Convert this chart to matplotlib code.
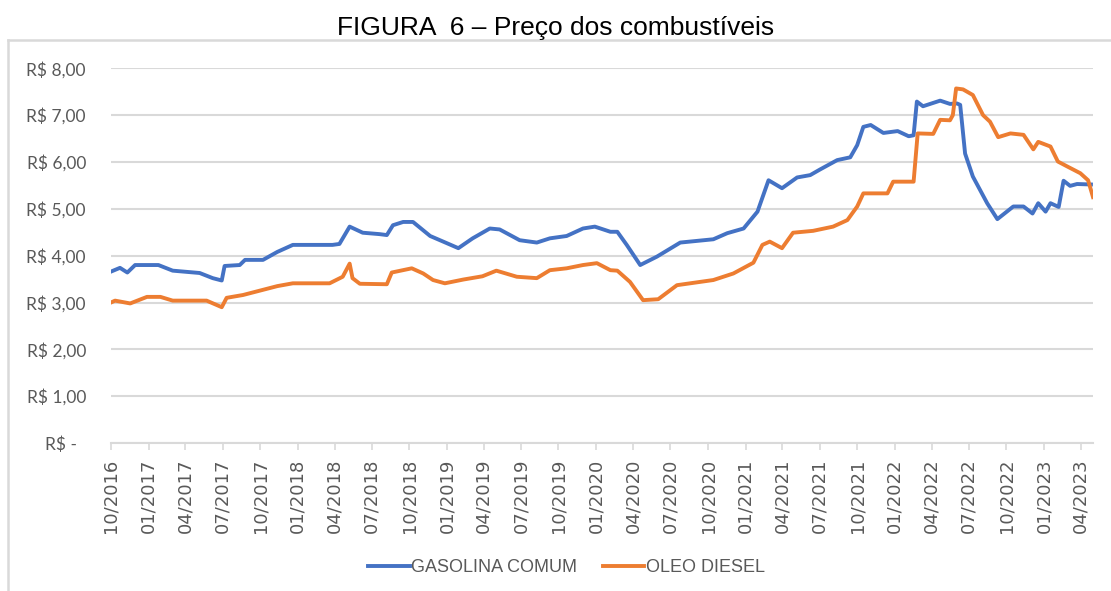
import pandas as pd
import matplotlib
matplotlib.use("Agg")
import matplotlib.pyplot as plt
import matplotlib.dates as mdates
from matplotlib.lines import Line2D

# --- data (weekly price series, key points) ---
gas_dates = [
    '2016-10-01', '2016-10-23', '2016-11-10', '2016-11-29', '2017-01-25', '2017-03-01',
    '2017-05-06', '2017-06-07', '2017-06-29', '2017-07-06', '2017-08-12', '2017-08-25',
    '2017-10-08', '2017-11-12', '2017-12-20', '2018-03-27', '2018-04-13', '2018-05-08',
    '2018-06-09', '2018-07-20', '2018-08-07', '2018-08-22', '2018-09-16', '2018-10-10',
    '2018-11-21', '2018-12-23', '2019-01-29', '2019-03-05', '2019-04-16', '2019-05-10',
    '2019-06-28', '2019-08-09', '2019-09-10', '2019-10-21', '2019-11-30', '2019-12-29',
    '2020-02-05', '2020-02-22', '2020-03-16', '2020-04-18', '2020-05-29', '2020-07-25',
    '2020-10-14', '2020-11-17', '2020-12-27', '2021-01-30', '2021-02-26', '2021-03-31',
    '2021-05-07', '2021-06-08', '2021-07-02', '2021-08-13', '2021-09-14', '2021-10-01',
    '2021-10-16', '2021-11-03', '2021-12-04', '2022-01-08', '2022-02-04', '2022-02-16',
    '2022-02-24', '2022-03-11', '2022-04-22', '2022-05-16', '2022-06-02', '2022-06-10',
    '2022-06-22', '2022-07-11', '2022-08-15', '2022-09-09', '2022-10-18', '2022-11-12',
    '2022-12-04', '2022-12-18', '2023-01-05', '2023-01-17', '2023-02-06', '2023-02-18',
    '2023-03-06', '2023-03-23', '2023-04-26',
]
gas_prices = [
    3.66, 3.74, 3.64, 3.80, 3.80, 3.68,
    3.63, 3.52, 3.47, 3.78, 3.80, 3.91,
    3.91, 4.08, 4.23, 4.23, 4.25, 4.62,
    4.49, 4.46, 4.44, 4.65, 4.72, 4.72,
    4.42, 4.30, 4.16, 4.37, 4.58, 4.56,
    4.33, 4.28, 4.37, 4.42, 4.58, 4.62,
    4.51, 4.51, 4.23, 3.80, 3.98, 4.28,
    4.35, 4.48, 4.58, 4.94, 5.61, 5.44,
    5.67, 5.72, 5.84, 6.04, 6.10, 6.36,
    6.75, 6.79, 6.62, 6.66, 6.55, 6.57,
    7.29, 7.19, 7.31, 7.24, 7.25, 7.22,
    6.18, 5.69, 5.12, 4.78, 5.05, 5.05,
    4.90, 5.12, 4.94, 5.12, 5.04, 5.60,
    5.49, 5.53, 5.52,
]

diesel_dates = [
    '2016-10-01', '2016-10-11', '2016-11-17', '2016-12-28', '2017-01-30', '2017-03-01',
    '2017-05-23', '2017-06-29', '2017-07-11', '2017-08-20', '2017-11-12', '2017-12-20',
    '2018-03-20', '2018-04-21', '2018-05-08', '2018-05-15', '2018-06-02', '2018-08-07',
    '2018-08-19', '2018-10-07', '2018-11-04', '2018-11-28', '2018-12-27', '2019-02-10',
    '2019-03-29', '2019-05-02', '2019-06-21', '2019-08-09', '2019-09-10', '2019-10-21',
    '2019-11-30', '2020-01-03', '2020-02-05', '2020-02-22', '2020-03-24', '2020-04-25',
    '2020-06-01', '2020-07-17', '2020-10-14', '2020-12-02', '2021-01-20', '2021-02-11',
    '2021-03-01', '2021-03-31', '2021-04-27', '2021-06-15', '2021-08-03', '2021-09-07',
    '2021-10-01', '2021-10-16', '2021-12-14', '2021-12-28', '2022-02-16', '2022-02-26',
    '2022-04-05', '2022-04-22', '2022-05-16', '2022-05-23', '2022-05-31', '2022-06-17',
    '2022-07-11', '2022-08-05', '2022-08-22', '2022-09-11', '2022-10-11', '2022-11-12',
    '2022-12-06', '2022-12-18', '2023-01-17', '2023-02-04', '2023-02-28', '2023-03-31',
    '2023-04-19', '2023-05-01',
]
diesel_prices = [
    3.00, 3.04, 2.98, 3.12, 3.12, 3.04,
    3.04, 2.90, 3.10, 3.16, 3.35, 3.41,
    3.41, 3.55, 3.83, 3.52, 3.40, 3.39,
    3.64, 3.73, 3.62, 3.48, 3.41, 3.49,
    3.56, 3.68, 3.55, 3.52, 3.69, 3.73,
    3.80, 3.84, 3.69, 3.68, 3.44, 3.05,
    3.07, 3.37, 3.48, 3.62, 3.85, 4.23,
    4.30, 4.16, 4.49, 4.53, 4.62, 4.76,
    5.05, 5.33, 5.33, 5.58, 5.58, 6.61,
    6.60, 6.90, 6.89, 7.00, 7.57, 7.55,
    7.43, 7.00, 6.86, 6.53, 6.61, 6.58,
    6.27, 6.43, 6.33, 6.01, 5.90, 5.76,
    5.61, 5.25,
]

y_ticks = [0, 1, 2, 3, 4, 5, 6, 7, 8]
y_labels = ['R$ -  ', 'R$ 1,00', 'R$ 2,00', 'R$ 3,00', 'R$ 4,00',
            'R$ 5,00', 'R$ 6,00', 'R$ 7,00', 'R$ 8,00']

title = 'FIGURA  6 – Preço dos combustíveis'

blue = '#4472C4'
orange = '#ED7D31'
grid_gray = '#d9d9d9'
text_gray = '#595959'

fig = plt.figure(figsize=(11.11, 5.91), dpi=100)
ax = fig.add_axes([0.0999, 0.2504, 0.8839, 0.634])

ax.plot(pd.to_datetime(gas_dates), gas_prices, color=blue, lw=2.8,
        label='GASOLINA COMUM', solid_joinstyle='round')
ax.plot(pd.to_datetime(diesel_dates), diesel_prices, color=orange, lw=2.8,
        label='OLEO DIESEL', solid_joinstyle='round')

ax.set_xlim(pd.Timestamp('2016-10-01'), pd.Timestamp('2023-05-01'))
ax.set_ylim(0, 8)

# horizontal gridlines
ax.set_yticks(y_ticks)
ax.set_yticklabels(y_labels, fontsize=12.5, color=text_gray, family='Lato')
ax.yaxis.grid(True, color=grid_gray, lw=1.5)
ax.set_axisbelow(True)
ax.tick_params(axis='y', length=0, pad=18)

ax.xaxis.set_major_locator(mdates.MonthLocator(bymonth=[1, 4, 7, 10]))
ax.xaxis.set_major_formatter(mdates.DateFormatter('%m/%Y'))
ax.tick_params(axis='x', length=5, width=1.2, color=grid_gray, pad=6,
               labelsize=13, labelcolor=text_gray, rotation=90)

for side in ['top', 'right', 'left']:
    ax.spines[side].set_visible(False)
ax.spines['bottom'].set_color(grid_gray)
ax.spines['bottom'].set_linewidth(1.5)

# title above the chart frame
fig.text(0.5, 1 - 28 / 591, title, ha='center', va='center', fontsize=19,
         color='black', family='Liberation Sans')

# chart frame (only top and left edges visible in the crop)
fig.add_artist(Line2D([8 / 1111, 1], [1 - 40 / 591, 1 - 40 / 591],
                      transform=fig.transFigure, color=grid_gray, lw=1.8))
fig.add_artist(Line2D([8 / 1111, 8 / 1111], [0, 1 - 40 / 591],
                      transform=fig.transFigure, color=grid_gray, lw=1.8))

fig.legend(loc='center', bbox_to_anchor=(0.51, 1 - 568 / 591), ncol=2,
           frameon=False, handlelength=2.3, handletextpad=0.1,
           columnspacing=1.4, prop={'family': 'Liberation Sans', 'size': 13},
           labelcolor=text_gray)

fig.savefig('out.png', dpi=100)
